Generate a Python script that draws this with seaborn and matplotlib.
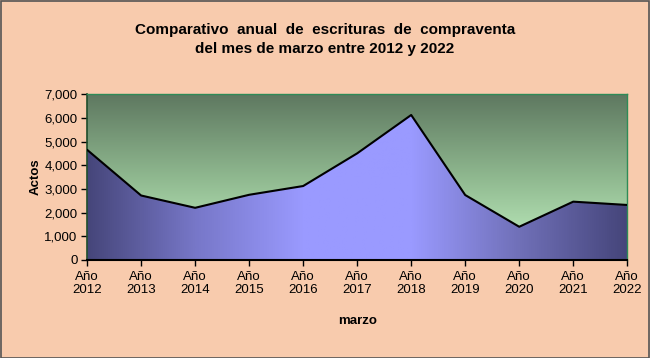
import numpy as np
import pandas as pd
import matplotlib
matplotlib.use("Agg")
import matplotlib.pyplot as plt
from matplotlib.colors import LinearSegmentedColormap
from matplotlib.patches import Rectangle, PathPatch
import seaborn as sns

years = ["2012", "2013", "2014", "2015", "2016", "2017", "2018", "2019", "2020", "2021", "2022"]
actos = [4650, 2720, 2200, 2750, 3120, 4500, 6120, 2740, 1400, 2460, 2320]
tick_labels = ["Año\n" + y for y in years]
yticks = [0, 1000, 2000, 3000, 4000, 5000, 6000, 7000]

sns.set_theme(style="white")
plt.rcParams['font.family'] = ['Liberation Sans', 'DejaVu Sans']
plt.rcParams['text.color'] = 'black'
plt.rcParams['axes.labelcolor'] = 'black'
plt.rcParams['xtick.color'] = 'black'
plt.rcParams['ytick.color'] = 'black'

df = pd.DataFrame({"x": np.arange(len(years)), "actos": actos})

fig = plt.figure(figsize=(6.5, 3.58), dpi=100)
fig.patch.set_facecolor("#F8CBAD")
ax = fig.add_axes([0.134, 0.274, 0.831, 0.463])

xmax = len(years) - 1
ymax = 7000
ax.set_xlim(0, xmax)
ax.set_ylim(0, ymax)

# background vertical gradient (green)
bg_cmap = LinearSegmentedColormap.from_list("bg", ["#C4F4C4", "#8FB88F", "#5E7860"])
grad = np.linspace(0, 1, 256).reshape(-1, 1)
ax.imshow(grad, aspect="auto", cmap=bg_cmap, origin="lower",
          extent=[0, xmax, 0, ymax], zorder=0)

# area fill with horizontal gradient
fill_cmap = LinearSegmentedColormap.from_list(
    "fill", ["#46467A", "#7777C8", "#9A9AFF", "#9A9AFF", "#7070B8", "#45457A"])
hgrad = np.linspace(0, 1, 512).reshape(1, -1)
im = ax.imshow(hgrad, aspect="auto", cmap=fill_cmap, origin="lower",
               extent=[0, xmax, 0, ymax], zorder=1)
poly = ax.fill_between(df["x"], 0, df["actos"], color="none", lw=0)
path = poly.get_paths()[0]
clip = PathPatch(path, transform=ax.transData, facecolor="none", edgecolor="none")
ax.add_patch(clip)
im.set_clip_path(clip)

sns.lineplot(data=df, x="x", y="actos", color="black", lw=1.5, ax=ax, zorder=3)

ax.set_xticks(df["x"])
ax.set_xticklabels(tick_labels, fontsize=9.5, linespacing=1.1)
ax.set_yticks(yticks)
ax.set_yticklabels([f"{v:,}" for v in yticks], fontsize=9.5)
ax.tick_params(axis="x", direction="out", length=4, width=1, pad=4, bottom=True)
ax.tick_params(axis="y", direction="out", length=4, width=1, pad=3, left=True)
ax.set_xlabel("marzo", fontsize=9.5, fontweight="bold", labelpad=14)
ax.set_ylabel("Actos", fontsize=9.5, fontweight="bold", labelpad=2)

for s in ["top", "right"]:
    ax.spines[s].set_color("#2E8B57")
    ax.spines[s].set_linewidth(1)
ax.spines["left"].set_color("#1E4D2B")
ax.spines["left"].set_linewidth(1.2)
ax.spines["bottom"].set_color("black")
ax.spines["bottom"].set_linewidth(1.5)
ax.grid(False)

fig.text(0.5, 0.936, "Comparativo  anual  de  escrituras  de  compraventa\ndel mes de marzo entre 2012 y 2022",
         ha="center", va="top", fontsize=11, fontweight="bold", linespacing=1.45)

fig.add_artist(Rectangle((0.001, 0.001), 0.997, 0.996, transform=fig.transFigure,
                         fill=False, edgecolor="#555555", lw=1.2))

fig.savefig("out.png", dpi=100, facecolor=fig.get_facecolor())
